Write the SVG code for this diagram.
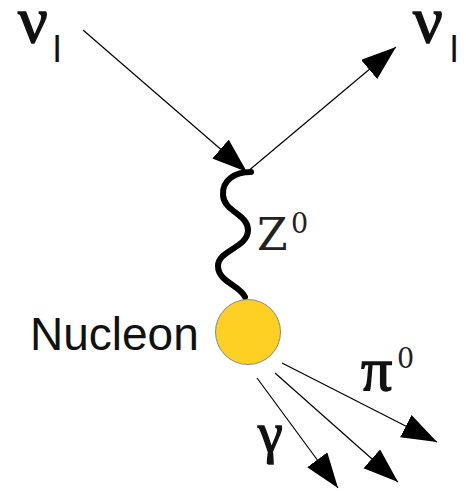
<svg xmlns="http://www.w3.org/2000/svg" width="466" height="491" viewBox="0 0 466 491">
<style>
.ln{stroke:#000;stroke-width:1.2;fill:none}
.gk{font-family:"Liberation Serif","Times New Roman",serif;fill:#111;stroke:#111;stroke-width:1.4}
.zs{font-family:"DejaVu Serif","Liberation Serif",serif;fill:#222}
.sub{font-family:"Liberation Sans",Arial,sans-serif;fill:#111}
</style>
<defs>
<marker id="ah" markerUnits="userSpaceOnUse" markerWidth="36" markerHeight="26" refX="35" refY="12.5" orient="auto">
<path d="M0,0 L35,12.5 L0,25 z" fill="#000"/>
</marker>
</defs>
<rect width="466" height="491" fill="#fff"/>
<g id="connectors">
<line class="ln" x1="83" y1="30" x2="247" y2="172" marker-end="url(#ah)"/>
<line class="ln" x1="247" y1="172" x2="396" y2="47" marker-end="url(#ah)"/>
<path d="M251,172 C235,172 222,180 223,195 C224,212 248,214 248,230 C248,248 218,250 218,266 C218,282 240,285 245,297" stroke="#000" stroke-width="6" fill="none" stroke-linecap="round"/>
<line class="ln" x1="257" y1="378" x2="338" y2="488" marker-end="url(#ah)"/>
<line class="ln" x1="275" y1="373" x2="398" y2="482" marker-end="url(#ah)"/>
<line class="ln" x1="282" y1="363" x2="437" y2="442" marker-end="url(#ah)"/>
</g>
<g id="nu-in">
<text class="gk" x="18" y="42" font-size="66">ν</text>
<text class="sub" x="53" y="62" font-size="37">l</text>
</g>
<g id="nu-out">
<text class="gk" x="413" y="42" font-size="66">ν</text>
<text class="sub" x="450" y="62" font-size="37">l</text>
</g>
<g id="z0">
<text class="zs" x="257" y="250" font-size="44">Z</text>
<text class="zs" x="291" y="233" font-size="27">0</text>
</g>
<g id="nucleon">
<circle cx="248" cy="332" r="32.5" fill="#FDD023" stroke="#888" stroke-width="1"/>
<text class="sub" x="30" y="350" font-size="46">Nucleon</text>
</g>
<g id="gamma">
<text class="gk" x="258" y="452" font-size="56">γ</text>
</g>
<g id="pi0">
<text class="gk" x="361" y="390" font-size="62">π</text>
<text class="zs" x="397" y="368" font-size="27">0</text>
</g>
</svg>
